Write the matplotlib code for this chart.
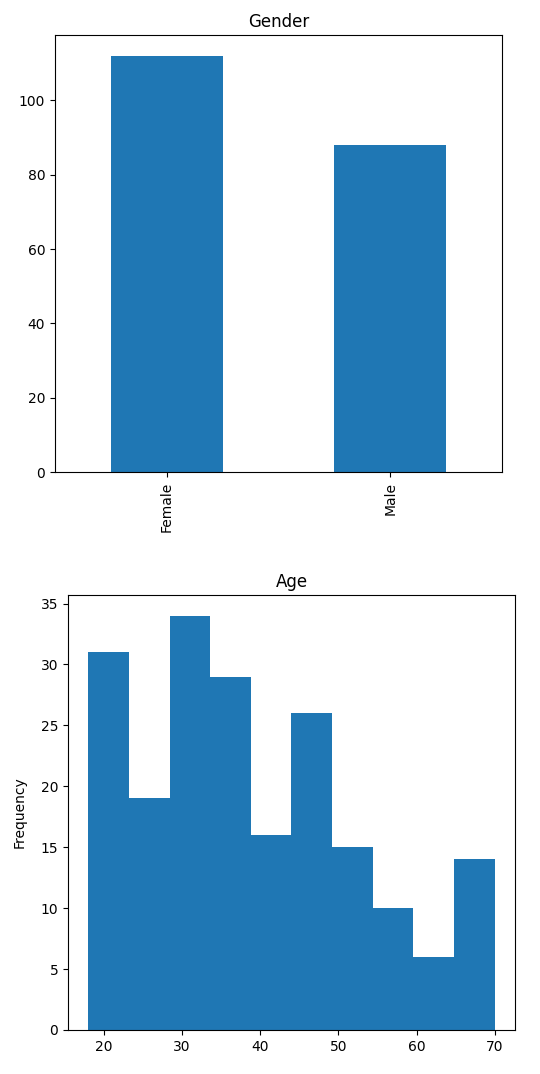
import numpy as np
import matplotlib
matplotlib.use("Agg")
import matplotlib.pyplot as plt

# gender counts
genders = ["Female", "Male"]
gender_counts = [112, 88]

# age histogram, 10 bins from 18 to 70
age_edges = [18.0, 23.2, 28.4, 33.6, 38.8, 44.0, 49.2, 54.4, 59.6, 64.8, 70.0]
age_counts = [31, 19, 34, 29, 16, 26, 15, 10, 6, 14]

fig = plt.figure(figsize=(5.4, 10.74), dpi=100)

ax1 = fig.add_axes([0.1019, 0.5605, 0.8278, 0.4069])
pos = np.arange(len(genders))
ax1.bar(pos, gender_counts, width=0.5, color="#1f77b4")
ax1.set_xticks(pos)
ax1.set_xticklabels(genders, rotation=90)
ax1.set_xlim(-0.5, len(genders) - 0.5)
ax1.set_title("Gender")

ax2 = fig.add_axes([0.1259, 0.041, 0.8278, 0.405])
centers = [(age_edges[i] + age_edges[i + 1]) / 2 for i in range(len(age_counts))]
ax2.hist(centers, bins=age_edges, weights=age_counts, color="#1f77b4")
ax2.set_ylabel("Frequency", labelpad=10)
ax2.set_title("Age")

fig.savefig("out.png", dpi=100)
